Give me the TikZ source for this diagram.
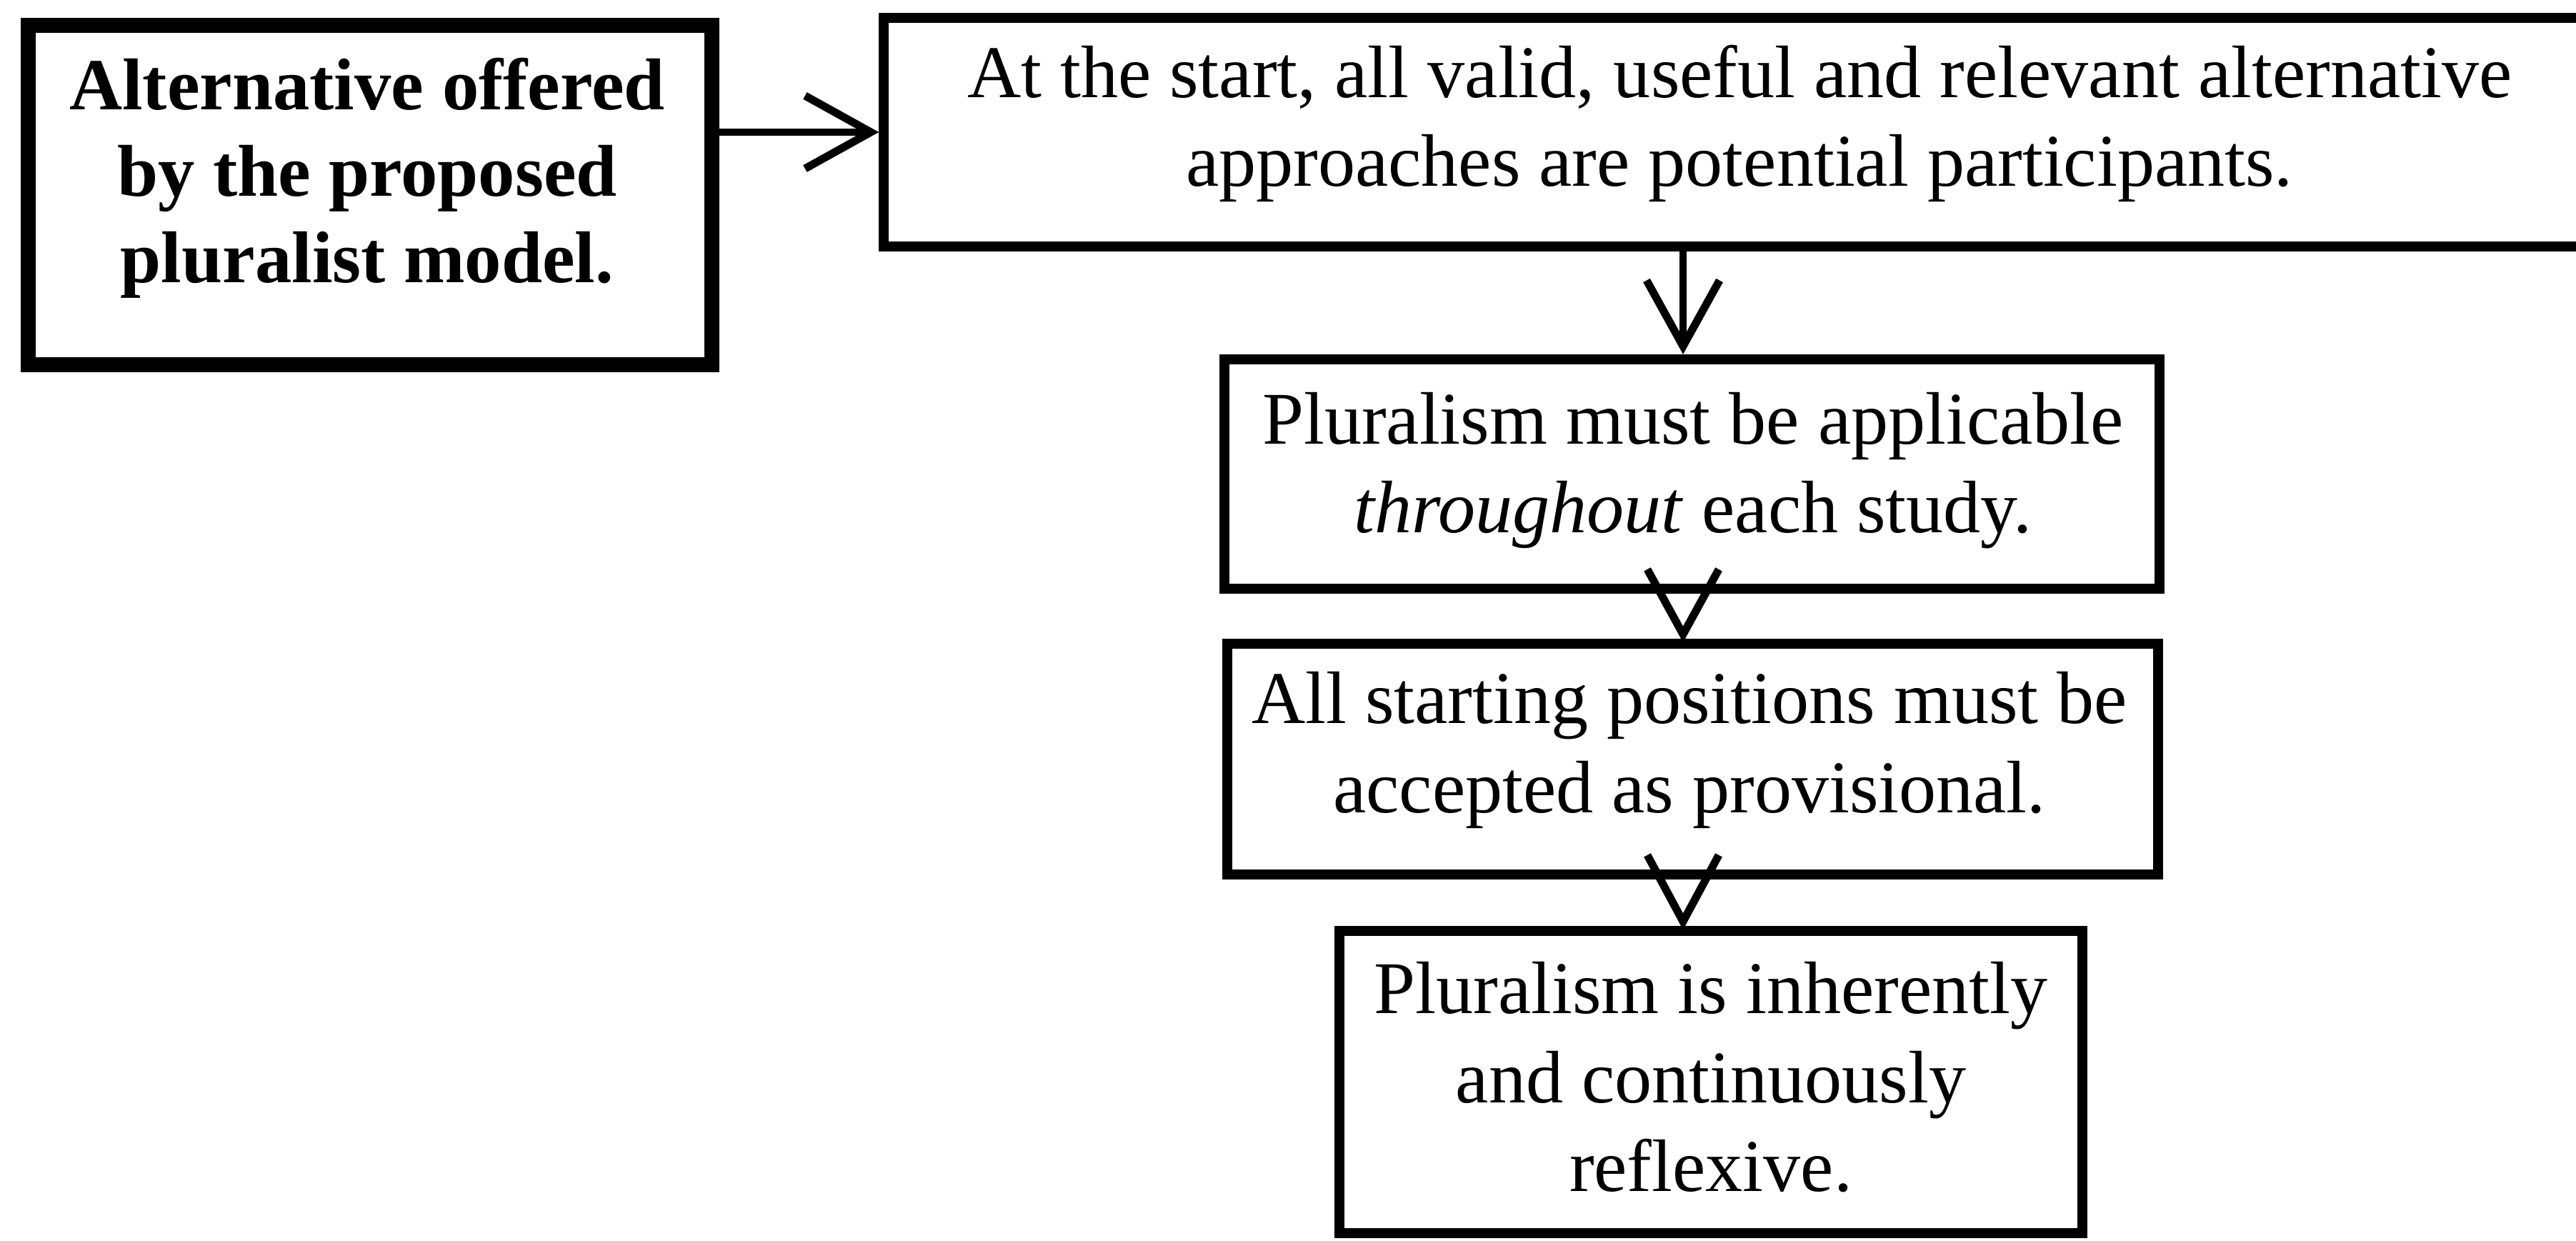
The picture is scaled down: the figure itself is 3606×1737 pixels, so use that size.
\documentclass[tikz,border=0pt]{standalone}
\usepackage{fontspec}
\setmainfont{Liberation Serif}
\usetikzlibrary{arrows.meta,calc}
\begin{document}
\begin{tikzpicture}[x=0.01cm,y=-0.01cm,
  boxframe/.style={draw=black, line width=0.14cm, inner sep=0pt},
  boxthick/.style={boxframe, line width=0.21cm},
  txt/.style={align=center, inner sep=0pt, font=\fontsize{29.6pt}{35.3pt}\selectfont},
  txtbold/.style={align=center, inner sep=0pt, font=\fontsize{29.2pt}{34.4pt}\selectfont\bfseries},
  conn/.style={line width=0.1cm, -{Straight Barb[length=0.92cm, width=1.02cm, line width=0.11cm]}},
  veehead/.style={line width=0.11cm, line join=miter}
]
\fill[white] (0,0) rectangle (3606,1737);
\useasboundingbox (0,0) rectangle (3606,1737);

% boxes
\node[boxthick, minimum width=9.57cm, minimum height=4.75cm] (A) at (518,273) {};
\node[boxframe, minimum width=23.92cm, minimum height=3.20cm] (B) at (2434,185) {};
\node[boxframe, minimum width=13.09cm, minimum height=3.21cm] (C) at (2368.5,663.5) {};
\node[boxframe, minimum width=13.03cm, minimum height=3.23cm] (D) at (2369.5,1062.5) {};
\node[boxframe, minimum width=10.40cm, minimum height=4.23cm] (E) at (2395,1514.5) {};

% texts
\node[txtbold] (tA) at (514,250.3) {\strut Alternative offered\\\strut by the proposed\\\strut pluralist model.};
\node[txt] (tB) at (2435,173.7) {\strut At the start, all valid, useful and relevant alternative\\\strut approaches are potential participants.};
\node[txt] (tC) at (2370,658.7) {\strut Pluralism must be applicable\\\strut \textit{throughout} each study.};
\node[txt] (tD) at (2365,1050.2) {\strut All starting positions must be\\\strut accepted as provisional.};
\node[txt] (tE) at (2395,1518.2) {\strut Pluralism is inherently\\\strut and continuously\\\strut reflexive.};

% connectors
\coordinate (col) at (2356,0);
\draw[conn] (A.east |- B.west) -- (B.west);
\draw[conn] (B.south -| col) -- (C.north -| col);
\coordinate (tipD) at ($(D.north -| col)+(0,-6)$);
\coordinate (tipE) at ($(E.north -| col)+(0,-6)$);
\draw[veehead] ($(tipD)+(-50,-91)$) -- (tipD) -- ($(tipD)+(50,-91)$);
\draw[veehead] ($(tipE)+(-50,-93)$) -- (tipE) -- ($(tipE)+(50,-93)$);
\end{tikzpicture}
\end{document}
